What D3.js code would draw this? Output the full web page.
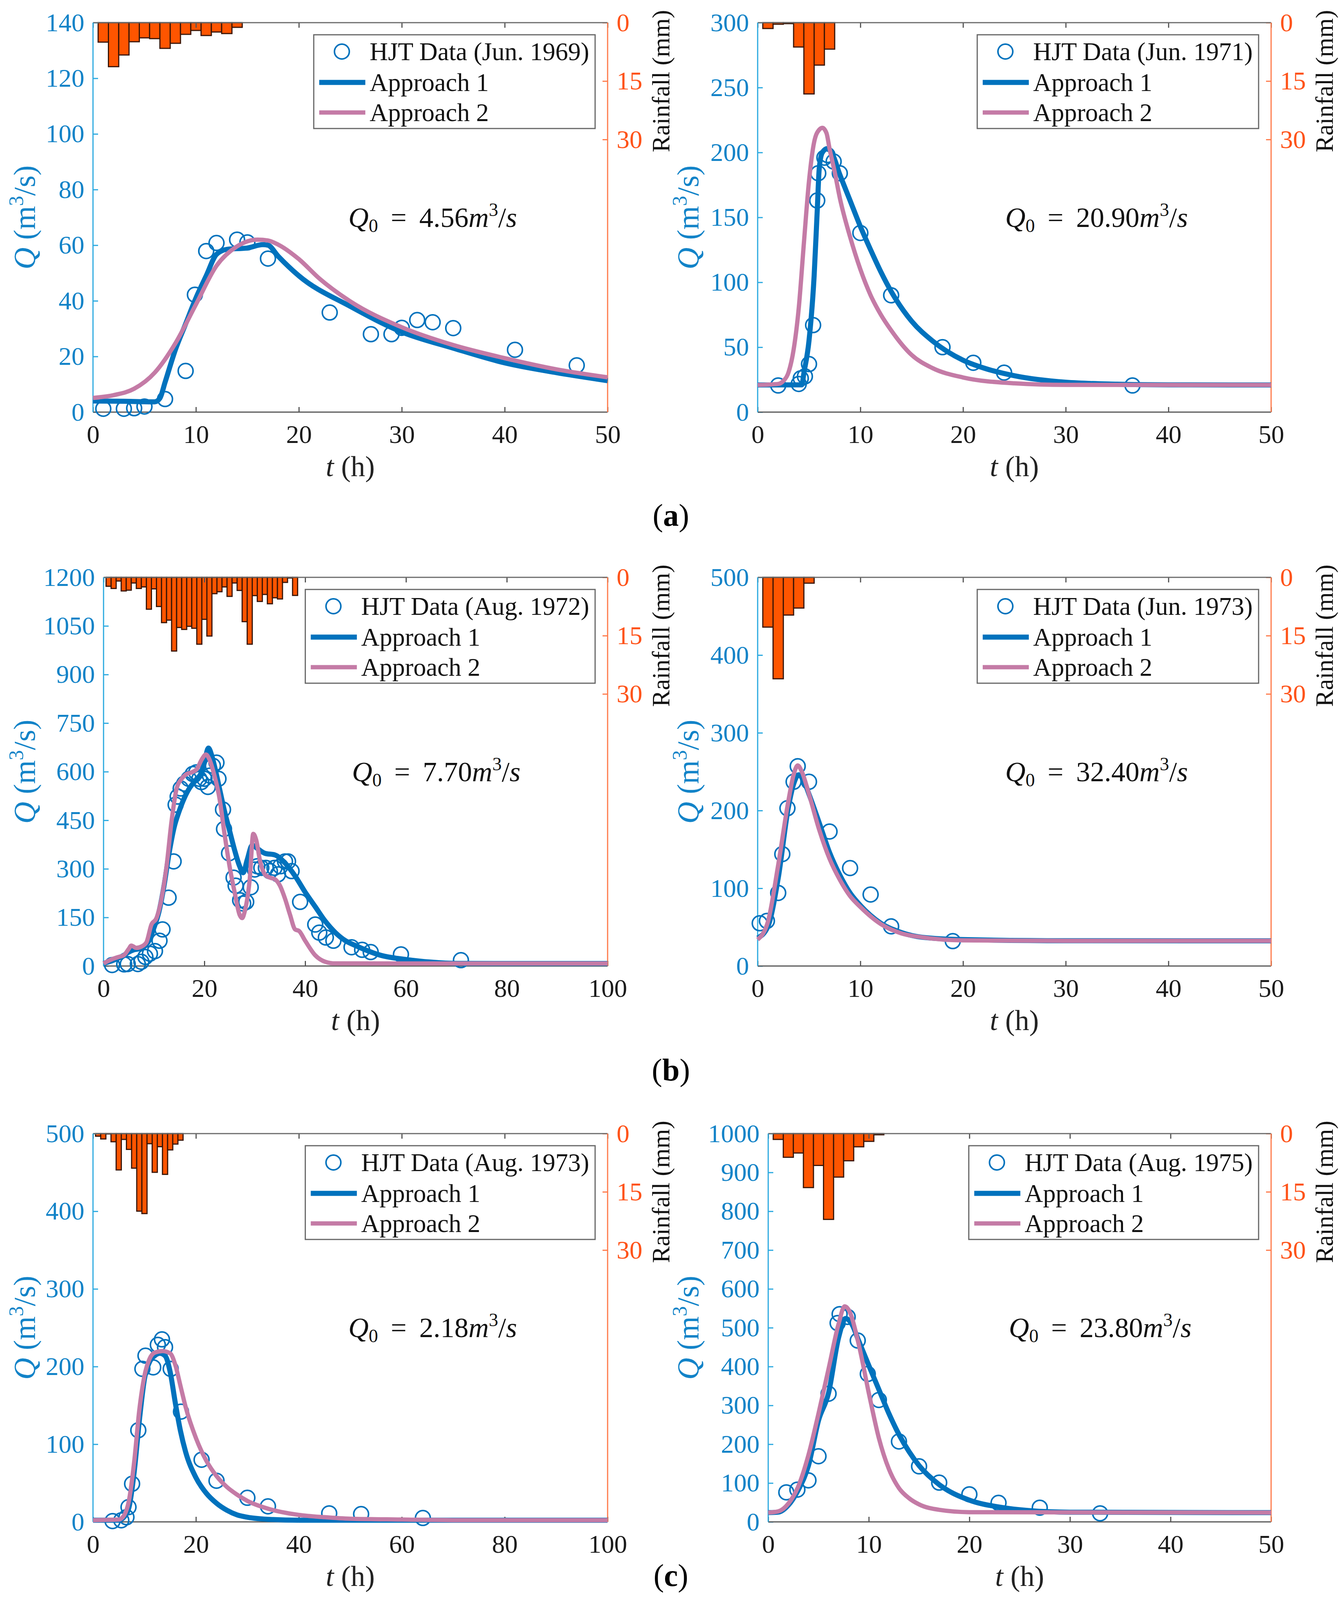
<!DOCTYPE html>
<html>
<head>
<meta charset="utf-8">
<script src="https://cdn.jsdelivr.net/npm/d3@7"></script>
<style>
  body { margin: 0; background: #fff; }
  svg { display: block; font-family: "Liberation Serif", "Times New Roman", serif; }
</style>
</head>
<body>
<svg id="chart"></svg>
<script>
'use strict';

// rainfall per hour (mm), bar i sits at t = i + 1
const rainJun69 = [5.0, 11.3, 8.3, 4.9, 3.9, 4.1, 6.6, 5.3, 3.0, 2.0, 3.3, 2.4, 2.8, 1.2];
const rainJun71 = [1.5, 0.4, 0.25, 6.25, 18.3, 10.9, 6.8];
const rainAug72 = [2.3, 2.86, 0.94, 3.5, 3.3, 1.45, 2.86, 2.46, 8.2, 2.96, 7.5, 11.65, 11.0, 18.96,
  12.9, 13.4, 12.6, 13.1, 17.2, 10.8, 15.1, 4.2, 3.7, 2.46, 4.9, 1.45, 3.37, 11.4, 17.2, 4.7,
  6.2, 4.4, 6.8, 5.25, 5.56, 1.3, 0.17, 4.65];
const rainJun73 = [12.8, 26.1, 9.7, 7.9, 1.5];
const rainAug73 = [0.67, 1.38, 0.1, 2.1, 9.36, 1.5, 4.07, 8.9, 19.97, 20.6, 2.6, 9.97, 3.37, 10.5, 4.2, 2.7, 1.7];
const rainAug75 = [1.5, 6.1, 5.0, 13.9, 8.2, 22.1, 11.2, 7.0, 3.4, 2.0, 0.3];

// observed discharge [t (h), Q (m3/s)]
const obsJun69 = [[1, 1.2], [3, 1.2], [4, 1.4], [5, 2], [7, 4.7], [9, 14.8], [9.9, 42.2], [11, 57.9],
  [12, 60.8], [14, 62], [15, 61], [17, 55.2], [23, 35.8], [27, 28], [29, 28], [30, 30.3], [31.5, 33.1],
  [33, 32.3], [35, 30.2], [41, 22.4], [47, 16.8]];
const obsJun71 = [[2, 20.5], [4, 21.7], [4.2, 26], [4.6, 27.5], [5, 37], [5.4, 67], [5.8, 163], [5.9, 184],
  [6.5, 196], [6.8, 198], [7.4, 193], [8, 184], [10, 138], [13, 90], [18, 50], [21, 38], [24, 30.4], [36.5, 20.5]];
const obsAug72 = [[1.7, 3], [4.1, 5], [4.8, 6], [6.8, 6], [7.5, 13], [8.3, 28], [9.2, 38], [10.2, 46],
  [11.1, 78], [11.7, 113], [12.9, 211], [13.9, 323], [14.3, 498], [14.7, 523], [15.3, 548], [16, 563],
  [16.9, 578], [17.7, 593], [18.4, 598], [19, 578], [19.4, 568], [20, 578], [20.7, 553], [21.1, 588],
  [21.7, 618], [22.4, 628], [22.8, 578], [23.7, 483], [23.9, 423], [24.9, 348], [25.8, 273], [26.2, 248],
  [27.1, 203], [27.7, 193], [28.3, 198], [29.2, 243], [30, 298], [30.5, 308], [31.3, 303], [32.2, 303],
  [33, 293], [33.9, 303], [34.6, 283], [35.1, 308], [36, 323], [36.6, 323], [37.3, 293], [39, 198],
  [42, 128], [42.8, 103], [44.1, 88], [45.6, 78], [49.2, 58], [51.3, 50], [53, 43], [59, 36], [70.9, 18]];
const obsJun73 = [[0.2, 55], [0.9, 58], [2, 94], [2.4, 144], [2.9, 203], [3.5, 237], [3.9, 257], [5, 237],
  [7, 173], [9, 126], [11, 92], [13, 51], [19, 32]];
const obsAug73 = [[3.8, 1], [5.5, 2], [6.5, 6], [6.9, 19], [7.6, 49], [8.8, 118], [9.6, 197], [10.2, 214],
  [11.7, 199], [12.6, 228], [13.4, 235], [14, 225], [15.1, 197], [17.1, 142], [21.1, 80], [24, 53],
  [30, 31], [34, 20], [45.9, 11], [52.1, 10], [64.1, 5]];
const obsAug75 = [[1.8, 76], [2.9, 83], [4, 107], [5, 169], [6, 330], [6.9, 512], [7.1, 535], [7.9, 528],
  [8.9, 467], [9.9, 381], [11, 314], [13, 207], [15, 143], [17, 101], [20, 71], [22.9, 49], [27, 36.5], [33, 22]];

// Approach 1 simulations
const app1Jun69 = [[0, 4.0], [3, 3.9], [6, 3.7], [6.5, 5], [7, 10.7], [8, 22.4], [9, 31.7], [10, 41], [11, 49],
  [12, 56.7], [13, 58.5], [15, 59], [16.5, 60.2], [17, 60], [18, 56], [20, 49], [25, 38], [30, 28.8],
  [35, 23], [40, 17.7], [45, 14.2], [50, 11.3]];
const app1Jun71 = [[0, 20.9], [4.3, 21], [4.5, 30], [5, 55], [5.5, 105], [5.8, 155], [6, 188], [6.3, 200],
  [6.8, 203], [7.2, 200], [8, 183], [9, 163], [10, 143], [11, 125], [12, 108], [13, 93], [15, 70], [17, 55],
  [20, 40], [22, 34], [25, 28], [30, 23], [35, 21.5], [40, 21], [50, 20.9]];
const app1Aug72 = [[0, 8], [2, 18], [4, 33], [5, 43], [6, 50], [7, 53], [8, 60], [9, 78], [10, 118], [11, 168],
  [12, 248], [13, 348], [14, 428], [15, 478], [16, 518], [17, 548], [18, 568], [19, 583], [20, 628],
  [20.8, 673], [21.5, 648], [22, 618], [23, 548], [24, 478], [25, 418], [26, 358], [27, 308], [27.7, 288],
  [28.5, 328], [29.5, 373], [30.5, 363], [32, 348], [34, 343], [36, 318], [38, 278], [40, 228], [42, 183],
  [44, 138], [46, 103], [48, 78], [50, 63], [55, 33], [60, 20], [65, 12], [70, 8], [80, 7.7], [100, 7.7]];
const app1Jun73 = [[0, 36], [1, 51], [2, 113], [3, 205], [3.5, 234], [4, 246], [4.5, 238], [5, 221], [6, 184],
  [7, 146], [8, 117], [9, 94], [10, 78], [12, 55], [14, 43], [16, 37], [20, 34], [30, 32.5], [50, 32.4]];
const app1Aug73 = [[0, 2.2], [5, 2.2], [6, 6], [7, 19], [8, 64], [9, 130], [10, 184], [11, 206], [12, 214],
  [13, 217], [14, 214], [15, 193], [16, 153], [17, 117], [18, 90], [20, 57], [22, 37], [24, 24], [26, 15],
  [28, 9], [30, 6], [35, 3], [40, 2.2], [100, 2.2]];
const app1Aug75 = [[0, 23.8], [1, 25], [2, 43], [3, 83], [4, 145], [5, 261], [6, 332], [7, 475], [7.7, 524],
  [8.3, 510], [9, 466], [10, 403], [11, 341], [12, 279], [13, 225], [14, 181], [15, 145], [17, 96], [20, 56],
  [23, 38], [26, 29], [30, 25], [50, 23.8]];

// Approach 2 simulations
const app2Jun69 = [[0, 5.1], [2, 6.1], [4, 8.4], [6, 14.2], [8, 24.7], [10, 38.7], [12, 52.6], [14, 59.6],
  [16, 62], [17, 61.7], [18, 60.2], [20, 55], [22, 48], [25, 39.8], [30, 30.5], [35, 24.1], [40, 19.4],
  [45, 15.4], [50, 12.5]];
const app2Jun71 = [[0, 20.9], [2, 21.7], [2.5, 24], [3, 30.5], [3.5, 48], [4, 80], [4.5, 130], [5, 178],
  [5.5, 208], [6, 217.6], [6.3, 219], [6.7, 215], [7, 203], [7.5, 185], [8, 165], [9, 135], [10, 110],
  [11, 90], [12, 75], [13, 63], [15, 44], [17, 34], [20, 26.7], [25, 22.2], [30, 21], [50, 20.9]];
const app2Aug72 = [[0, 8], [2, 23], [3, 28], [4, 33], [5, 53], [5.5, 63], [6.5, 56], [7.5, 60], [8.5, 73],
  [9.5, 128], [10.5, 148], [11.5, 208], [12.5, 308], [13.5, 448], [14.5, 548], [15.5, 578], [16.5, 593],
  [17.5, 598], [18.5, 608], [19.5, 638], [20.3, 653], [21, 638], [22, 588], [23, 518], [24, 408], [25, 308],
  [26, 228], [27, 158], [27.5, 148], [28, 168], [29, 268], [29.7, 408], [30.3, 388], [31, 328], [32, 283],
  [33, 273], [34, 268], [35, 248], [36, 208], [37, 158], [38, 113], [38.8, 108], [40, 78], [42, 33],
  [44, 13], [46, 8], [100, 7.7]];
const app2Jun73 = [[0, 34], [1, 57], [2, 130], [3, 213], [3.5, 246], [3.9, 258], [4.3, 250], [5, 221], [6, 175],
  [7, 138], [8, 111], [9, 90], [10, 76], [12, 54], [14, 42], [16, 37], [20, 33], [30, 32.4], [50, 32.4]];
const app2Aug73 = [[0, 2.2], [5, 3], [6, 8], [7, 28], [8, 77], [9, 144], [10, 188], [11, 210], [12, 218],
  [13.5, 220], [15, 217], [16, 202], [17, 175], [18, 148], [20, 108], [22, 79], [24, 59], [26, 45], [28, 35],
  [30, 27], [34, 17], [40, 9], [45, 6], [50, 4], [60, 3], [70, 2.2], [100, 2.2]];
const app2Aug75 = [[0, 23.8], [1, 27], [2, 47], [3, 92], [4, 172], [5, 279], [6, 394], [7, 510], [7.6, 555],
  [8, 546], [9, 457], [10, 332], [11, 216], [12, 136], [13, 87], [14, 61], [15, 45], [17, 31], [20, 25],
  [50, 23.8]];

// axis ticks and labels
const xTicks50 = [0, 10, 20, 30, 40, 50];
const xTicks100 = [0, 20, 40, 60, 80, 100];
const rainTicks = [0, 15, 30];
const legendNames = ['Approach 1', 'Approach 2'];

const FONT = '"Liberation Serif", "Times New Roman", serif';
const C_APP1 = '#0072BD';
const C_APP2 = '#C47BA6';
const C_OBS = '#0072BD';
const C_LEFT = '#1283C8';
const C_RIGHT = '#FF5319';
const FONT_TICK = 66;

const panels = [
  { x0: 238, x1: 1555, y0: 58, y1: 1055, yLabX: 62, xMax: 50, yMax: 140, xTicks: xTicks50, yTicks: d3.range(0, 141, 20),
    rain: rainJun69, obs: obsJun69, app1: app1Jun69, app2: app2Jun69, name: 'HJT Data (Jun. 1969)', q0: '4.56' },
  { x0: 1939, x1: 3253, y0: 58, y1: 1055, yLabX: 1760, xMax: 50, yMax: 300, xTicks: xTicks50, yTicks: d3.range(0, 301, 50),
    rain: rainJun71, obs: obsJun71, app1: app1Jun71, app2: app2Jun71, name: 'HJT Data (Jun. 1971)', q0: '20.90' },
  { x0: 265, x1: 1555, y0: 1478, y1: 2473, yLabX: 62, xMax: 100, yMax: 1200, xTicks: xTicks100, yTicks: d3.range(0, 1201, 150),
    rain: rainAug72, obs: obsAug72, app1: app1Aug72, app2: app2Aug72, name: 'HJT Data (Aug. 1972)', q0: '7.70' },
  { x0: 1939, x1: 3253, y0: 1478, y1: 2473, yLabX: 1760, xMax: 50, yMax: 500, xTicks: xTicks50, yTicks: d3.range(0, 501, 100),
    rain: rainJun73, obs: obsJun73, app1: app1Jun73, app2: app2Jun73, name: 'HJT Data (Jun. 1973)', q0: '32.40' },
  { x0: 238, x1: 1555, y0: 2902, y1: 3896, yLabX: 62, xMax: 100, yMax: 500, xTicks: xTicks100, yTicks: d3.range(0, 501, 100),
    rain: rainAug73, obs: obsAug73, app1: app1Aug73, app2: app2Aug73, name: 'HJT Data (Aug. 1973)', q0: '2.18' },
  { x0: 1966, x1: 3253, y0: 2902, y1: 3896, yLabX: 1760, xMax: 50, yMax: 1000, xTicks: xTicks50, yTicks: d3.range(0, 1001, 100),
    rain: rainAug75, obs: obsAug75, app1: app1Aug75, app2: app2Aug75, name: 'HJT Data (Aug. 1975)', q0: '23.80' }
];

// sub-figure labels with the vertical centre of each
// (c) is lifted a little so it stays inside the visible viewport
const subLabels = [['a', 1326], ['b', 2746], ['c', 4040]];

const svg = d3.select('#chart').attr('width', 3437).attr('height', 4228);
svg.append('rect').attr('width', 3437).attr('height', 4228).attr('fill', '#fff');

function drawPanel(p) {
  const g = svg.append('g');
  const x = d3.scaleLinear().domain([0, p.xMax]).range([p.x0, p.x1]);
  const y = d3.scaleLinear().domain([0, p.yMax]).range([p.y1, p.y0]);
  const yr = d3.scaleLinear().domain([0, 100]).range([p.y0, p.y1]);
  const yMid = (p.y0 + p.y1) / 2;

  // rainfall bars hanging from the top
  g.selectAll('rect.rain')
    .data(p.rain)
    .join('rect')
      .attr('class', 'rain')
      .attr('x', (d, i) => x(i + 0.5))
      .attr('width', x(1) - x(0))
      .attr('y', yr(0))
      .attr('height', d => yr(d) - yr(0))
      .attr('fill', '#FF5500')
      .attr('stroke', '#3a1606')
      .attr('stroke-width', 3);

  // axes (ticks point inwards)
  const fmt = d3.format('d');
  const xAx = g.append('g')
    .attr('transform', 'translate(0,' + p.y1 + ')')
    .call(d3.axisBottom(x).tickValues(p.xTicks).tickFormat(fmt).tickSize(-13).tickPadding(32));
  const xTop = g.append('g')
    .attr('transform', 'translate(0,' + p.y0 + ')')
    .call(d3.axisTop(x).tickValues(p.xTicks).tickSize(-13));
  const yAx = g.append('g')
    .attr('transform', 'translate(' + p.x0 + ',0)')
    .call(d3.axisLeft(y).tickValues(p.yTicks).tickFormat(fmt).tickSize(-13).tickPadding(22));
  const yRain = g.append('g')
    .attr('transform', 'translate(' + p.x1 + ',0)')
    .call(d3.axisRight(yr).tickValues(rainTicks).tickFormat(fmt).tickSize(-13).tickPadding(23));

  xTop.selectAll('text').remove();
  [xAx, xTop, yAx, yRain].forEach(a => {
    a.attr('font-family', FONT).attr('font-size', FONT_TICK);
    a.select('.domain').remove();
  });
  xAx.selectAll('line').attr('stroke', '#555').attr('stroke-width', 3);
  xTop.selectAll('line').attr('stroke', '#555').attr('stroke-width', 3);
  yAx.selectAll('line').attr('stroke', '#2AA9E0').attr('stroke-width', 3);
  yRain.selectAll('line').attr('stroke', '#FF7A4A').attr('stroke-width', 3);
  xAx.selectAll('text').attr('fill', '#1a1a1a');
  yAx.selectAll('text').attr('fill', C_LEFT);
  yRain.selectAll('text').attr('fill', C_RIGHT);

  // frame
  g.append('line').attr('x1', p.x0).attr('x2', p.x1).attr('y1', p.y0).attr('y2', p.y0)
    .attr('stroke', '#6b6b6b').attr('stroke-width', 3);
  g.append('line').attr('x1', p.x0).attr('x2', p.x1).attr('y1', p.y1).attr('y2', p.y1)
    .attr('stroke', '#555').attr('stroke-width', 3);
  g.append('line').attr('x1', p.x0).attr('x2', p.x0).attr('y1', p.y0).attr('y2', p.y1)
    .attr('stroke', '#2AA9E0').attr('stroke-width', 3);
  g.append('line').attr('x1', p.x1).attr('x2', p.x1).attr('y1', p.y0).attr('y2', p.y1)
    .attr('stroke', '#FF7A4A').attr('stroke-width', 3);

  // observed points and simulated curves
  g.selectAll('circle.obs')
    .data(p.obs)
    .join('circle')
      .attr('class', 'obs')
      .attr('cx', d => x(d[0]))
      .attr('cy', d => y(d[1]))
      .attr('r', 19)
      .attr('fill', 'none')
      .attr('stroke', C_OBS)
      .attr('stroke-width', 4);

  const line = d3.line()
    .x(d => x(d[0]))
    .y(d => y(d[1]))
    .curve(d3.curveMonotoneX);

  g.append('path').datum(p.app1).attr('d', line)
    .attr('fill', 'none').attr('stroke', C_APP1).attr('stroke-width', 13).attr('stroke-linejoin', 'round');
  g.append('path').datum(p.app2).attr('d', line)
    .attr('fill', 'none').attr('stroke', C_APP2).attr('stroke-width', 11).attr('stroke-linejoin', 'round');

  // axis titles
  const xt = g.append('text')
    .attr('x', (p.x0 + p.x1) / 2).attr('y', p.y1 + 164)
    .attr('text-anchor', 'middle').attr('font-size', 74).attr('fill', '#222');
  xt.append('tspan').attr('font-style', 'italic').text('t');
  xt.append('tspan').text(' (h)');

  const yt = g.append('text')
    .attr('transform', 'translate(' + p.yLabX + ',' + yMid + ') rotate(-90)')
    .attr('text-anchor', 'middle').attr('dy', '0.35em')
    .attr('font-size', 78).attr('fill', C_LEFT);
  yt.append('tspan').attr('font-style', 'italic').text('Q');
  yt.append('tspan').text(' (m');
  yt.append('tspan').attr('font-size', 52).attr('dy', -30).text('3');
  yt.append('tspan').attr('dy', 30).text('/s)');

  g.append('text')
    .attr('transform', 'translate(' + (p.x1 + 136) + ',' + yr(15) + ') rotate(-90)')
    .attr('text-anchor', 'middle').attr('dy', '0.35em')
    .attr('font-size', 64).attr('fill', '#111')
    .text('Rainfall (mm)');

  // Q0 annotation
  const qt = g.append('text')
    .attr('x', p.x0 + 0.66 * (p.x1 - p.x0)).attr('y', yMid + 24)
    .attr('text-anchor', 'middle').attr('font-size', 72).attr('fill', '#111');
  qt.append('tspan').attr('font-style', 'italic').text('Q');
  qt.append('tspan').attr('font-size', 48).attr('dy', 13).text('0');
  qt.append('tspan').attr('dy', -13).text(' \u2009=\u2009 ' + p.q0);
  qt.append('tspan').attr('font-style', 'italic').text('m');
  qt.append('tspan').attr('font-size', 48).attr('dy', -28).text('3');
  qt.append('tspan').attr('dy', 28).text('/');
  qt.append('tspan').attr('font-style', 'italic').text('s');

  // legend
  const lg = g.append('g');
  const boxRight = p.x1 - 32;
  const boxTop = p.y0 + 31;
  const texts = [p.name].concat(legendNames);
  const tNodes = texts.map((t, i) => lg.append('text')
    .attr('y', boxTop + [43, 122, 199][i] + 22)
    .attr('font-size', 65).attr('fill', '#111')
    .text(t));
  const tw = d3.max(tNodes, n => n.node().getComputedTextLength());
  const boxLeft = boxRight - (tw + 158);
  lg.insert('rect', 'text')
    .attr('x', boxLeft).attr('y', boxTop)
    .attr('width', boxRight - boxLeft).attr('height', 240)
    .attr('fill', '#fff').attr('stroke', '#666').attr('stroke-width', 3);
  tNodes.forEach(n => n.attr('x', boxLeft + 143));
  lg.append('circle')
    .attr('cx', boxLeft + 72).attr('cy', boxTop + 43).attr('r', 19)
    .attr('fill', 'none').attr('stroke', C_OBS).attr('stroke-width', 4);
  lg.append('line')
    .attr('x1', boxLeft + 14).attr('x2', boxLeft + 132)
    .attr('y1', boxTop + 122).attr('y2', boxTop + 122)
    .attr('stroke', C_APP1).attr('stroke-width', 13);
  lg.append('line')
    .attr('x1', boxLeft + 14).attr('x2', boxLeft + 132)
    .attr('y1', boxTop + 199).attr('y2', boxTop + 199)
    .attr('stroke', C_APP2).attr('stroke-width', 11);
}

panels.forEach(drawPanel);

// (a), (b), (c) sub-figure labels
subLabels.forEach(([s, cy]) => {
  const t = svg.append('text')
    .attr('x', 1717).attr('y', cy + 20)
    .attr('text-anchor', 'middle').attr('font-size', 80).attr('fill', '#000');
  t.append('tspan').text('(');
  t.append('tspan').attr('font-weight', 'bold').text(s);
  t.append('tspan').text(')');
});
</script>
</body>
</html>
